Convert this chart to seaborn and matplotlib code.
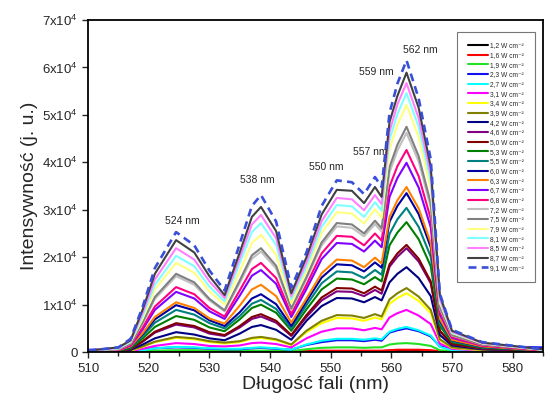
import matplotlib
matplotlib.use("Agg")
import matplotlib.pyplot as plt
import seaborn as sns
from matplotlib.ticker import MultipleLocator, FuncFormatter

# wavelength grid (nm) and intensities in units of 1e4 (j. u.)
wl = [510, 515, 517, 519, 521, 524.5, 527.5, 530, 532.5, 535, 537, 538.5, 541, 543.5,
      546, 548.5, 551, 553.5, 555.5, 557.3, 558.4, 559.7, 561, 562.5, 564.5, 566.5,
      568, 570, 575, 585]

p12 = [0, 0, 0, 0, 0.01, 0.01, 0.01, 0.01, 0.01, 0.01, 0.01, 0.01, 0.01, 0.01, 0.01, 0.02,
       0.02, 0.02, 0.02, 0.02, 0.02, 0.03, 0.03, 0.03, 0.03, 0.02, 0.01, 0.01, 0, 0]
p16 = [0, 0, 0, 0.01, 0.01, 0.02, 0.02, 0.01, 0.01, 0.01, 0.02, 0.02, 0.01, 0.01, 0.02, 0.03,
       0.03, 0.03, 0.03, 0.03, 0.03, 0.04, 0.05, 0.05, 0.05, 0.04, 0.02, 0.01, 0, 0]
p19 = [0, 0, 0.01, 0.02, 0.03, 0.04, 0.04, 0.03, 0.03, 0.03, 0.03, 0.03, 0.03, 0.02, 0.06, 0.09,
       0.1, 0.1, 0.09, 0.1, 0.1, 0.16, 0.18, 0.19, 0.17, 0.13, 0.04, 0.02, 0.01, 0]
p23 = [0.05, 0.06, 0.05, 0.06, 0.08, 0.1, 0.09, 0.07, 0.06, 0.06, 0.08, 0.09, 0.07, 0.05, 0.15, 0.21,
       0.25, 0.25, 0.23, 0.26, 0.24, 0.41, 0.46, 0.5, 0.44, 0.33, 0.12, 0.1, 0.12, 0.1]
p27 = [0.01, 0.01, 0.01, 0.04, 0.08, 0.11, 0.1, 0.08, 0.07, 0.07, 0.09, 0.1, 0.08, 0.05, 0.16, 0.24,
       0.28, 0.28, 0.26, 0.29, 0.27, 0.43, 0.49, 0.53, 0.46, 0.35, 0.11, 0.04, 0.02, 0.01]
p31 = [0.01, 0.01, 0.02, 0.07, 0.13, 0.19, 0.17, 0.13, 0.12, 0.14, 0.19, 0.2, 0.17, 0.1, 0.29, 0.43,
       0.5, 0.5, 0.46, 0.51, 0.48, 0.73, 0.82, 0.89, 0.77, 0.59, 0.18, 0.07, 0.03, 0.01]
p34 = [0.01, 0.02, 0.03, 0.11, 0.21, 0.3, 0.27, 0.21, 0.18, 0.21, 0.28, 0.3, 0.25, 0.15, 0.42, 0.61,
       0.72, 0.71, 0.66, 0.73, 0.69, 1.02, 1.14, 1.24, 1.08, 0.82, 0.25, 0.09, 0.04, 0.01]
p39 = [0.01, 0.02, 0.04, 0.12, 0.22, 0.32, 0.29, 0.23, 0.2, 0.23, 0.3, 0.32, 0.27, 0.16, 0.45, 0.66,
       0.78, 0.77, 0.72, 0.8, 0.75, 1.11, 1.24, 1.35, 1.17, 0.89, 0.27, 0.1, 0.05, 0.01]
p42 = [0.01, 0.02, 0.05, 0.16, 0.29, 0.42, 0.37, 0.29, 0.25, 0.39, 0.53, 0.57, 0.47, 0.26, 0.66, 0.97,
       1.14, 1.13, 1.05, 1.16, 1.09, 1.47, 1.65, 1.79, 1.56, 1.18, 0.36, 0.14, 0.06, 0.02]
p46 = [0.01, 0.02, 0.06, 0.22, 0.41, 0.58, 0.52, 0.39, 0.34, 0.52, 0.7, 0.75, 0.62, 0.34, 0.74, 1.09,
       1.28, 1.27, 1.18, 1.31, 1.23, 1.8, 2.01, 2.19, 1.91, 1.45, 0.44, 0.17, 0.07, 0.02]
p50 = [0.01, 0.03, 0.07, 0.23, 0.43, 0.61, 0.55, 0.42, 0.36, 0.55, 0.74, 0.8, 0.66, 0.36, 0.78, 1.15,
       1.35, 1.34, 1.24, 1.38, 1.3, 1.85, 2.08, 2.26, 1.97, 1.49, 0.45, 0.17, 0.08, 0.02]
p53 = [0.01, 0.03, 0.08, 0.29, 0.53, 0.76, 0.68, 0.52, 0.44, 0.69, 0.93, 1.0, 0.83, 0.45, 0.9, 1.32,
       1.55, 1.53, 1.43, 1.58, 1.49, 2.25, 2.52, 2.74, 2.38, 1.81, 0.55, 0.21, 0.09, 0.03]
p55 = [0.02, 0.04, 0.1, 0.34, 0.62, 0.89, 0.79, 0.61, 0.5, 0.76, 1.02, 1.1, 0.91, 0.5, 0.99, 1.45,
       1.7, 1.68, 1.56, 1.73, 1.63, 2.49, 2.8, 3.04, 2.64, 2.01, 0.61, 0.23, 0.1, 0.03]
p60 = [0.02, 0.04, 0.11, 0.38, 0.69, 0.99, 0.88, 0.67, 0.55, 0.84, 1.13, 1.22, 1.01, 0.55, 1.07, 1.57,
       1.85, 1.83, 1.7, 1.89, 1.78, 2.75, 3.08, 3.35, 2.91, 2.21, 0.67, 0.25, 0.11, 0.03]
p63 = [0.02, 0.04, 0.12, 0.4, 0.74, 1.05, 0.93, 0.71, 0.6, 0.98, 1.32, 1.42, 1.18, 0.62, 1.13, 1.66,
       1.95, 1.93, 1.79, 1.99, 1.87, 2.85, 3.2, 3.48, 3.03, 2.3, 0.7, 0.26, 0.12, 0.03]
p67 = [0.02, 0.05, 0.14, 0.48, 0.89, 1.27, 1.13, 0.86, 0.7, 1.19, 1.61, 1.73, 1.44, 0.74, 1.33, 1.96,
       2.3, 2.28, 2.12, 2.35, 2.21, 3.27, 3.67, 3.99, 3.47, 2.63, 0.8, 0.3, 0.14, 0.04]
p68 = [0.02, 0.05, 0.15, 0.52, 0.96, 1.37, 1.22, 0.93, 0.75, 1.3, 1.75, 1.88, 1.56, 0.8, 1.42, 2.08,
       2.45, 2.43, 2.25, 2.5, 2.35, 3.49, 3.92, 4.26, 3.71, 2.81, 0.85, 0.32, 0.14, 0.04]
p72 = [0.02, 0.06, 0.18, 0.61, 1.12, 1.6, 1.42, 1.09, 0.86, 1.46, 1.97, 2.12, 1.76, 0.89, 1.54, 2.25,
       2.65, 2.62, 2.44, 2.7, 2.54, 3.79, 4.25, 4.62, 4.02, 3.05, 0.92, 0.35, 0.16, 0.05]
p75 = [0.02, 0.07, 0.18, 0.63, 1.16, 1.65, 1.47, 1.12, 0.88, 1.51, 2.04, 2.19, 1.82, 0.92, 1.58, 2.31,
       2.72, 2.69, 2.5, 2.77, 2.61, 3.9, 4.37, 4.75, 4.13, 3.14, 0.95, 0.36, 0.16, 0.05]
p79 = [0.03, 0.08, 0.21, 0.71, 1.32, 1.88, 1.67, 1.28, 1.0, 1.7, 2.3, 2.47, 2.05, 1.03, 1.71, 2.51,
       2.95, 2.92, 2.71, 3.01, 2.83, 4.27, 4.79, 5.21, 4.53, 3.44, 1.04, 0.4, 0.18, 0.05]
p81 = [0.03, 0.08, 0.22, 0.77, 1.42, 2.03, 1.81, 1.38, 1.07, 1.88, 2.53, 2.72, 2.26, 1.12, 1.8, 2.64,
       3.1, 3.07, 2.85, 3.16, 2.98, 4.48, 5.02, 5.46, 4.75, 3.6, 1.09, 0.41, 0.19, 0.05]
p85 = [0.03, 0.09, 0.24, 0.83, 1.53, 2.19, 1.95, 1.49, 1.14, 1.99, 2.69, 2.89, 2.4, 1.18, 1.89, 2.76,
       3.25, 3.22, 2.99, 3.31, 3.12, 4.65, 5.22, 5.67, 4.93, 3.74, 1.13, 0.43, 0.19, 0.06]
p87 = [0.03, 0.1, 0.25, 0.9, 1.65, 2.36, 2.1, 1.6, 1.2, 2.1, 2.85, 3.06, 2.55, 1.24, 2.0, 2.9,
       3.42, 3.4, 3.14, 3.48, 3.27, 4.85, 5.4, 5.89, 5.15, 3.9, 1.2, 0.45, 0.2, 0.06]
p91 = [0.03, 0.1, 0.28, 0.96, 1.77, 2.53, 2.25, 1.72, 1.3, 2.28, 3.08, 3.31, 2.75, 1.36, 2.1, 3.08,
       3.62, 3.58, 3.33, 3.69, 3.48, 5.04, 5.66, 6.15, 5.35, 4.06, 1.23, 0.47, 0.21, 0.06]

series = [p12, p16, p19, p23, p27, p31, p34, p39, p42, p46, p50, p53,
          p55, p60, p63, p67, p68, p72, p75, p79, p81, p85, p87, p91]
powers = ["1,2", "1,6", "1,9", "2,3", "2,7", "3,1", "3,4", "3,9", "4,2", "4,6", "5,0", "5,3",
          "5,5", "6,0", "6,3", "6,7", "6,8", "7,2", "7,5", "7,9", "8,1", "8,5", "8,7", "9,1"]
colors = ["#000000", "#FF0000", "#22E022", "#1010F0", "#00FFFF", "#FF00FF", "#FFFF00", "#808000",
          "#000080", "#800080", "#800000", "#008000", "#008080", "#0000A0", "#FF8000", "#8000FF",
          "#FF0080", "#C0C0C0", "#808080", "#FFFF80", "#80FFFF", "#FF80FF", "#404040", "#3A4FD8"]

peak_labels = ["524 nm", "538 nm", "550 nm", "557 nm", "559 nm", "562 nm"]
peak_x = [525.6, 537.9, 549.3, 556.5, 557.6, 564.7]
peak_y = [2.76, 3.62, 3.9, 4.22, 5.9, 6.37]

sns.set_style("ticks")
plt.rcParams["font.family"] = ["Liberation Sans", "DejaVu Sans"]
plt.rcParams["mathtext.fontset"] = "custom"
plt.rcParams["mathtext.rm"] = "Liberation Sans"
plt.rcParams["mathtext.it"] = "Liberation Sans"

fig = plt.figure(figsize=(5.58, 4.08), dpi=100)
ax = fig.add_axes([0.158, 0.137, 0.815, 0.814])

for vals, pw, col in zip(series, powers, colors):
    dashed = pw == "9,1"
    sns.lineplot(x=wl, y=vals, ax=ax, color=col, lw=1.9 if dashed else 1.5,
                 linestyle=(0, (3, 2)) if dashed else "-",
                 label=pw + " W cm\u207b\u00b2", zorder=3)

# peak labels sit behind the curves, as in the original
for t, x, y in zip(peak_labels, peak_x, peak_y):
    ax.text(x, y, t, ha="center", va="center", fontsize=7.5, zorder=1)

ax.set_xlim(510, 585)
ax.set_ylim(0, 7)
ax.xaxis.set_major_locator(MultipleLocator(10))
ax.xaxis.set_minor_locator(MultipleLocator(5))
ax.yaxis.set_major_locator(MultipleLocator(1))
ax.yaxis.set_major_formatter(FuncFormatter(lambda v, p: "0" if v == 0 else f"{int(v)}x10$^{{4}}$"))
ax.tick_params(which="major", direction="out", length=4, width=1, labelsize=9.5)
ax.tick_params(which="minor", direction="out", length=3, width=1)
for s in ax.spines.values():
    s.set_linewidth(1.3)
    s.set_color("black")
    s.set_zorder(5)

ax.set_xlabel("Długość fali (nm)", fontsize=14, labelpad=1)
ax.set_ylabel("Intensywność (j. u.)", fontsize=14, labelpad=3)

leg = ax.legend(loc="upper right", bbox_to_anchor=(0.99, 0.975), fontsize=4.8, frameon=True,
                fancybox=False, edgecolor="#555555", handlelength=3.0, handletextpad=0.4,
                labelspacing=0.4, borderpad=1.6)
leg.get_frame().set_linewidth(0.8)
leg.set_zorder(6)

fig.savefig("out.png", dpi=100)
